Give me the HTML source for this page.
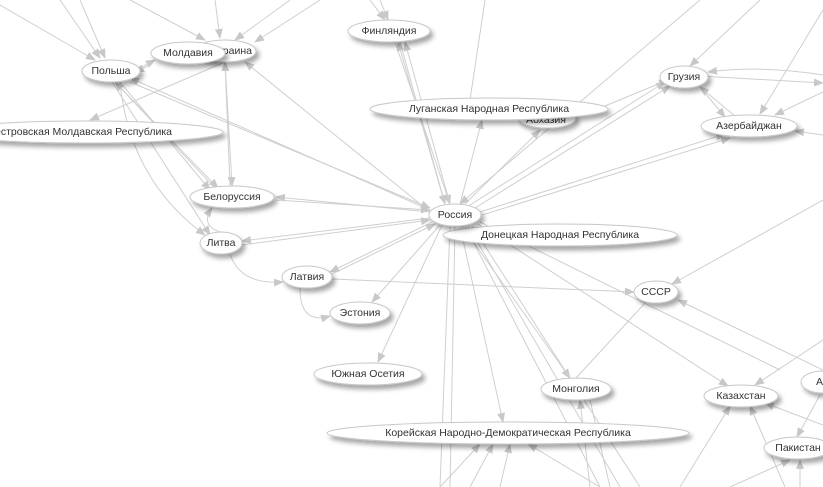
<!DOCTYPE html>
<html><head><meta charset="utf-8"><style>
html,body{margin:0;padding:0;background:#fff;width:823px;height:487px;overflow:hidden}
svg{display:block}
text{font-family:"Liberation Sans",sans-serif;font-size:10.5px;fill:#333;text-anchor:middle;dominant-baseline:central}
.e line,.e path{stroke:#cfcfcf;stroke-width:1;fill:none;marker-end:url(#a)}
.e .o{marker-end:none}
.n ellipse{fill:#fff;stroke:#c8c8c8;stroke-width:1;filter:url(#s)}
</style></head><body>
<svg width="823" height="487" viewBox="0 0 823 487">
<defs>
<marker id="a" markerWidth="10" markerHeight="8" refX="9" refY="4" orient="auto" markerUnits="userSpaceOnUse"><path d="M0,0 L10,4 L0,8z" fill="#c8c8c8"/></marker>
<filter id="s" x="-20%" y="-50%" width="150%" height="220%"><feDropShadow dx="3" dy="4" stdDeviation="2.5" flood-color="#000" flood-opacity="0.35"/></filter>
</defs>
<g class="e">
<line x1="0" y1="5" x2="95" y2="60"/><line x1="60" y1="0" x2="100" y2="58"/><line x1="80" y1="0" x2="105" y2="58"/>
<line x1="130" y1="0" x2="205" y2="40"/><line x1="215" y1="0" x2="220" y2="38"/><line x1="290" y1="0" x2="235" y2="40"/><line x1="320" y1="0" x2="255" y2="42"/>
<line x1="370" y1="0" x2="385" y2="20"/><line x1="380" y1="0" x2="388" y2="20"/><line class="o" x1="485" y1="0" x2="470" y2="100"/>
<line x1="140" y1="68" x2="155" y2="60"/><line x1="150" y1="65" x2="135" y2="72"/>
<line x1="115" y1="82" x2="218" y2="188"/><line x1="120" y1="82" x2="210" y2="190"/><line x1="112" y1="82" x2="210" y2="235"/>
<line x1="215" y1="188" x2="115" y2="82"/><path d="M120,83 Q130,180 205,235"/>
<line x1="225" y1="62" x2="232" y2="186"/><line x1="230" y1="186" x2="225" y2="62"/>
<line x1="225" y1="62" x2="90" y2="120"/><line x1="430" y1="210" x2="130" y2="78"/><line x1="430" y1="212" x2="245" y2="62"/>
<line x1="130" y1="82" x2="430" y2="208"/>
<line x1="395" y1="42" x2="450" y2="204"/><line x1="400" y1="42" x2="445" y2="204"/><line x1="445" y1="204" x2="398" y2="42"/><line x1="450" y1="204" x2="405" y2="42"/>
<line x1="430" y1="212" x2="276" y2="197"/><line x1="276" y1="200" x2="430" y2="210"/>
<line x1="430" y1="218" x2="242" y2="241"/><line x1="242" y1="245" x2="430" y2="220"/>
<line x1="432" y1="222" x2="330" y2="272"/><line x1="330" y1="275" x2="435" y2="224"/>
<line x1="440" y1="225" x2="372" y2="302"/><line x1="442" y1="225" x2="378" y2="362"/>
<line x1="332" y1="279" x2="634" y2="292"/>
<line x1="460" y1="204" x2="482" y2="120"/><line x1="465" y1="204" x2="540" y2="130"/><line x1="470" y1="205" x2="665" y2="82"/><line x1="475" y1="208" x2="670" y2="86"/>
<line x1="480" y1="212" x2="725" y2="134"/><line x1="482" y1="215" x2="730" y2="138"/><line x1="600" y1="108" x2="668" y2="80"/>
<line x1="700" y1="0" x2="460" y2="204"/><line x1="760" y1="0" x2="690" y2="66"/>
<line class="o" x1="450" y1="226" x2="440" y2="487"/><line class="o" x1="455" y1="226" x2="450" y2="487"/><line x1="460" y1="226" x2="503" y2="422"/>
<line x1="462" y1="226" x2="570" y2="378"/><line class="o" x1="465" y1="226" x2="600" y2="487"/><line class="o" x1="468" y1="226" x2="620" y2="487"/><line class="o" x1="472" y1="226" x2="640" y2="487"/>
<line x1="478" y1="224" x2="728" y2="386"/><line class="o" x1="480" y1="222" x2="780" y2="370"/>
<line class="o" x1="576" y1="378" x2="646" y2="302"/><line class="o" x1="590" y1="400" x2="610" y2="487"/><line x1="590" y1="487" x2="580" y2="400"/>
<line x1="823" y1="200" x2="672" y2="284"/><line x1="823" y1="370" x2="678" y2="300"/>
<line x1="700" y1="76" x2="823" y2="83"/><path d="M823,75 Q760,65 708,72"/><line x1="823" y1="92" x2="775" y2="115"/>
<line x1="700" y1="87" x2="725" y2="117"/><line x1="735" y1="116" x2="700" y2="87"/><line x1="823" y1="10" x2="760" y2="114"/>
<line x1="823" y1="135" x2="795" y2="131"/><line x1="823" y1="340" x2="755" y2="385"/><line x1="823" y1="425" x2="765" y2="403"/>
<line x1="680" y1="487" x2="730" y2="406"/><line x1="785" y1="487" x2="750" y2="406"/><line x1="730" y1="487" x2="790" y2="460"/>
<line x1="820" y1="395" x2="797" y2="437"/><line x1="800" y1="487" x2="800" y2="460"/>
<line x1="440" y1="487" x2="480" y2="444"/><line x1="500" y1="487" x2="510" y2="444"/><line x1="600" y1="487" x2="528" y2="444"/><line x1="470" y1="487" x2="493" y2="444"/>
<path d="M220,232 Q200,225 212,208"/><path d="M230,254 Q240,285 283,282"/><path d="M300,288 Q300,325 330,316"/>
</g>
<g class="n">
<ellipse cx="225" cy="51" rx="31" ry="11"/><text x="232" y="51">Украина</text>
<ellipse cx="188" cy="53" rx="37" ry="11"/><text x="188" y="53">Молдавия</text>
<ellipse cx="111" cy="71" rx="29" ry="11"/><text x="111" y="71">Польша</text>
<ellipse cx="85" cy="132" rx="138" ry="11"/><text x="172" y="132" style="text-anchor:end">Приднестровская Молдавская Республика</text>
<ellipse cx="389" cy="31" rx="41" ry="11"/><text x="389" y="31">Финляндия</text>
<ellipse cx="547" cy="118" rx="29" ry="10"/><text x="546" y="120">Абхазия</text>
<ellipse cx="489" cy="109" rx="119" ry="11"/><text x="489" y="109">Луганская Народная Республика</text>
<ellipse cx="684" cy="77" rx="24" ry="11"/><text x="684" y="77">Грузия</text>
<ellipse cx="749" cy="126" rx="48" ry="11"/><text x="749" y="126">Азербайджан</text>
<ellipse cx="232" cy="197" rx="42" ry="11"/><text x="232" y="197">Белоруссия</text>
<ellipse cx="560" cy="235" rx="117" ry="11"/><text x="560" y="235">Донецкая Народная Республика</text>
<ellipse cx="455" cy="215" rx="26" ry="11"/><text x="455" y="215">Россия</text>
<ellipse cx="221" cy="243" rx="21" ry="11"/><text x="221" y="243">Литва</text>
<ellipse cx="307" cy="277" rx="25" ry="11"/><text x="307" y="277">Латвия</text>
<ellipse cx="360" cy="313" rx="30" ry="11"/><text x="360" y="313">Эстония</text>
<ellipse cx="656" cy="292" rx="22" ry="11"/><text x="656" y="292">СССР</text>
<ellipse cx="368" cy="374" rx="54" ry="11"/><text x="368" y="374">Южная Осетия</text>
<ellipse cx="576" cy="389" rx="35" ry="11"/><text x="576" y="389">Монголия</text>
<ellipse cx="741" cy="396" rx="37" ry="11"/><text x="741" y="396">Казахстан</text>
<ellipse cx="823" cy="382" rx="22" ry="11"/><text x="816" y="382" style="text-anchor:start">А</text>
<ellipse cx="508" cy="433" rx="181" ry="11"/><text x="508" y="433">Корейская Народно-Демократическая Республика</text>
<ellipse cx="798" cy="448" rx="34" ry="11"/><text x="798" y="448">Пакистан</text>
</g>
</svg>
</body></html>
